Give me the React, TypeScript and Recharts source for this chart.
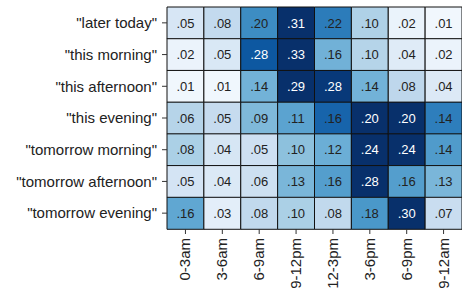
import { Bar, BarChart, Cell, LabelList, XAxis, YAxis } from "recharts";

const rowLabels = [
  '"later today"',
  '"this morning"',
  '"this afternoon"',
  '"this evening"',
  '"tomorrow morning"',
  '"tomorrow afternoon"',
  '"tomorrow evening"',
];

const colLabels = ["0-3am", "3-6am", "6-9am", "9-12pm", "12-3pm", "3-6pm", "6-9pm", "9-12am"];

const laterToday = [0.05, 0.08, 0.2, 0.31, 0.22, 0.1, 0.02, 0.01];
const thisMorning = [0.02, 0.05, 0.28, 0.33, 0.16, 0.1, 0.04, 0.02];
const thisAfternoon = [0.01, 0.01, 0.14, 0.29, 0.28, 0.14, 0.08, 0.04];
const thisEvening = [0.06, 0.05, 0.09, 0.11, 0.16, 0.2, 0.2, 0.14];
const tomorrowMorning = [0.08, 0.04, 0.05, 0.1, 0.12, 0.24, 0.24, 0.14];
const tomorrowAfternoon = [0.05, 0.04, 0.06, 0.13, 0.16, 0.28, 0.16, 0.13];
const tomorrowEvening = [0.16, 0.03, 0.08, 0.1, 0.08, 0.18, 0.3, 0.07];

const values = [
  laterToday,
  thisMorning,
  thisAfternoon,
  thisEvening,
  tomorrowMorning,
  tomorrowAfternoon,
  tomorrowEvening,
];

// matplotlib "Blues"
const BLUES = ["#f7fbff", "#deebf7", "#c6dbef", "#9ecae1", "#6baed6", "#4292c6", "#2171b5", "#08519c", "#08306b"];

function hexToRgb(h: string) {
  const n = parseInt(h.slice(1), 16);
  return [(n >> 16) & 255, (n >> 8) & 255, n & 255];
}

function blues(t: number) {
  const c = Math.max(0, Math.min(1, t)) * (BLUES.length - 1);
  const i = Math.min(Math.floor(c), BLUES.length - 2);
  const f = c - i;
  const a = hexToRgb(BLUES[i]);
  const b = hexToRgb(BLUES[i + 1]);
  const m = a.map((v, k) => Math.round(v + (b[k] - v) * f));
  return `rgb(${m[0]},${m[1]},${m[2]})`;
}

const ratio = (r: number, c: number) => values[r][c] / Math.max(...values[r]);

const fmt = (v: number) => v.toFixed(2).replace(/^0/, "");

const data = rowLabels.map((label, r) => {
  const row: Record<string, string | number> = { label };
  colLabels.forEach((_, c) => {
    row[`c${c}`] = 1;
    row[`v${c}`] = values[r][c];
  });
  return row;
});

const FONT = "'Liberation Sans', Arial, sans-serif";

function ColTick({ x, y, payload }: any) {
  const i = Math.round(payload.value - 0.5);
  return (
    <text
      x={x + 5}
      y={y + 2}
      transform={`rotate(-90, ${x + 5}, ${y + 2})`}
      textAnchor="end"
      fontSize={15}
      fontFamily={FONT}
      fill="#222"
    >
      {colLabels[i]}
    </text>
  );
}

export default function App() {
  return (
    <div style={{ position: "fixed", left: 0, top: 0, background: "#fff" }}>
      <BarChart
        width={462}
        height={293}
        data={data}
        layout="vertical"
        barCategoryGap={0}
        margin={{ top: 7, right: 0, bottom: 0, left: 0 }}
      >
        <XAxis
          type="number"
          domain={[0, 8]}
          ticks={colLabels.map((_, i) => i + 0.5)}
          interval={0}
          axisLine={false}
          tickSize={5}
          tickLine={{ stroke: "#333" }}
          height={64}
          tick={<ColTick />}
        />
        <YAxis
          type="category"
          dataKey="label"
          width={167}
          axisLine={false}
          tickSize={5}
          tickMargin={5}
          tickLine={{ stroke: "#333" }}
          tick={{ fontSize: 15, fontFamily: FONT, fill: "#222" }}
          interval={0}
        />
        {colLabels.map((_, c) => (
          <Bar key={c} dataKey={`c${c}`} stackId="a" isAnimationActive={false} stroke="#111" strokeWidth={1}>
            {data.map((_, r) => (
              <Cell key={r} fill={blues(ratio(r, c))} />
            ))}
            <LabelList
              dataKey={`v${c}`}
              content={(p: any) => {
                const white = ratio(p.index, c) > 0.82;
                return (
                  <text
                    x={p.x + p.width / 2}
                    y={p.y + p.height / 2}
                    textAnchor="middle"
                    dominantBaseline="central"
                    fontSize={13}
                    fontFamily={FONT}
                    fill={white ? "#fff" : "#222"}
                  >
                    {fmt(p.value)}
                  </text>
                );
              }}
            />
          </Bar>
        ))}
      </BarChart>
    </div>
  );
}
